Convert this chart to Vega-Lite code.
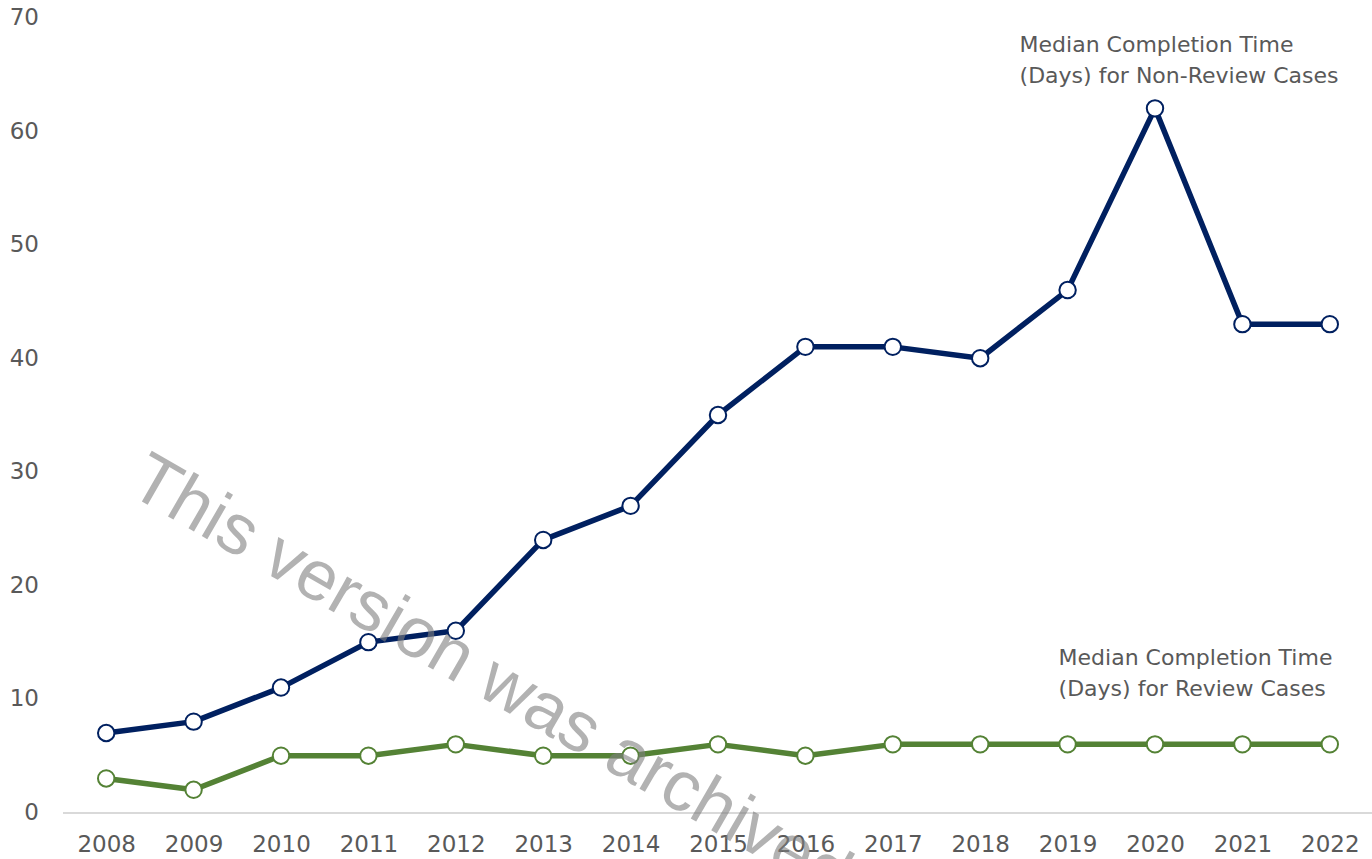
{
  "$schema": "https://vega.github.io/schema/vega-lite/v6.json",
  "width": 1311,
  "height": 795,
  "autosize": "none",
  "padding": {"left": 62.5, "top": 17.5, "right": 0, "bottom": 46.5},
  "background": "white",
  "config": {"view": {"stroke": null}, "font": "DejaVu Sans"},
  "datasets": {
    "series": [
      {"year": "2008", "series": "Non-Review", "value": 7},
      {"year": "2009", "series": "Non-Review", "value": 8},
      {"year": "2010", "series": "Non-Review", "value": 11},
      {"year": "2011", "series": "Non-Review", "value": 15},
      {"year": "2012", "series": "Non-Review", "value": 16},
      {"year": "2013", "series": "Non-Review", "value": 24},
      {"year": "2014", "series": "Non-Review", "value": 27},
      {"year": "2015", "series": "Non-Review", "value": 35},
      {"year": "2016", "series": "Non-Review", "value": 41},
      {"year": "2017", "series": "Non-Review", "value": 41},
      {"year": "2018", "series": "Non-Review", "value": 40},
      {"year": "2019", "series": "Non-Review", "value": 46},
      {"year": "2020", "series": "Non-Review", "value": 62},
      {"year": "2021", "series": "Non-Review", "value": 43},
      {"year": "2022", "series": "Non-Review", "value": 43},
      {"year": "2008", "series": "Review", "value": 3},
      {"year": "2009", "series": "Review", "value": 2},
      {"year": "2010", "series": "Review", "value": 5},
      {"year": "2011", "series": "Review", "value": 5},
      {"year": "2012", "series": "Review", "value": 6},
      {"year": "2013", "series": "Review", "value": 5},
      {"year": "2014", "series": "Review", "value": 5},
      {"year": "2015", "series": "Review", "value": 6},
      {"year": "2016", "series": "Review", "value": 5},
      {"year": "2017", "series": "Review", "value": 6},
      {"year": "2018", "series": "Review", "value": 6},
      {"year": "2019", "series": "Review", "value": 6},
      {"year": "2020", "series": "Review", "value": 6},
      {"year": "2021", "series": "Review", "value": 6},
      {"year": "2022", "series": "Review", "value": 6}
    ],
    "noteNonReview": [
      {"year": "2019", "value": 67, "label": "Median Completion Time\n(Days) for Non-Review Cases"}
    ],
    "noteReview": [
      {"year": "2019", "value": 13, "label": "Median Completion Time\n(Days) for Review Cases"}
    ],
    "watermark": [
      {"year": "2008", "value": 29.2, "label": "This version was archived."}
    ]
  },
  "layer": [
    {
      "data": {"name": "series"},
      "mark": {"type": "line", "strokeWidth": 5.5, "strokeJoin": "round", "strokeCap": "round"},
      "encoding": {
        "x": {
          "field": "year", "type": "ordinal",
          "axis": {
            "title": null, "labelAngle": 0, "ticks": false, "grid": false,
            "domainColor": "#d9d9d9", "domainWidth": 2,
            "labelFontSize": 23, "labelColor": "#595959", "labelPadding": 21,
            "labelFont": "DejaVu Sans"
          }
        },
        "y": {
          "field": "value", "type": "quantitative",
          "scale": {"domain": [0, 70], "nice": false},
          "axis": {
            "title": null, "values": [0, 10, 20, 30, 40, 50, 60, 70],
            "domain": false, "ticks": false, "grid": false,
            "labelFontSize": 23, "labelColor": "#595959", "labelPadding": 24,
            "labelFont": "DejaVu Sans"
          }
        },
        "color": {
          "field": "series", "type": "nominal",
          "scale": {"domain": ["Non-Review", "Review"], "range": ["#002060", "#548235"]},
          "legend": null
        }
      }
    },
    {
      "data": {"name": "series"},
      "mark": {"type": "point", "shape": "circle", "filled": true, "fill": "white", "size": 270, "strokeWidth": 2, "opacity": 1},
      "encoding": {
        "x": {"field": "year", "type": "ordinal"},
        "y": {"field": "value", "type": "quantitative"},
        "stroke": {
          "field": "series", "type": "nominal",
          "scale": {"domain": ["Non-Review", "Review"], "range": ["#002060", "#548235"]},
          "legend": null
        }
      }
    },
    {
      "data": {"name": "noteNonReview"},
      "mark": {"type": "text", "align": "left", "baseline": "alphabetic", "dx": -48, "lineBreak": "\n", "lineHeight": 31, "fontSize": 22, "font": "DejaVu Sans", "fill": "#595959"},
      "encoding": {
        "x": {"field": "year", "type": "ordinal"},
        "y": {"field": "value", "type": "quantitative"},
        "text": {"field": "label"}
      }
    },
    {
      "data": {"name": "noteReview"},
      "mark": {"type": "text", "align": "left", "baseline": "alphabetic", "dx": -9, "lineBreak": "\n", "lineHeight": 31, "fontSize": 22, "font": "DejaVu Sans", "fill": "#595959"},
      "encoding": {
        "x": {"field": "year", "type": "ordinal"},
        "y": {"field": "value", "type": "quantitative"},
        "text": {"field": "label"}
      }
    },
    {
      "data": {"name": "watermark"},
      "mark": {"type": "text", "align": "left", "baseline": "alphabetic", "angle": 30, "dx": 23, "fontSize": 71, "font": "Liberation Sans", "fill": "#7f7f7f", "opacity": 0.6},
      "encoding": {
        "x": {"field": "year", "type": "ordinal"},
        "y": {"field": "value", "type": "quantitative"},
        "text": {"field": "label"}
      }
    }
  ]
}
